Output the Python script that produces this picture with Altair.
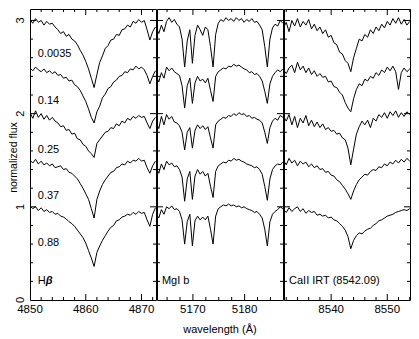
import altair as alt
import pandas as pd

FONT = "Liberation Sans"

# ---- sampling grids (start wavelength, step in Angstrom) ----
STEP = 0.5
HB_START = 4850.0
MG_START = 5162.9
CA_START = 8531.5

PHASES = ["0.0035", "0.14", "0.25", "0.37", "0.88"]
PHASE_Y = [2.635, 2.136, 1.615, 1.116, 0.617]

# ---- H-beta spectra (offset by 0.5 each) ----
HB_0035 = [3.01, 2.97, 3.02, 2.98, 3.00, 2.95, 2.99, 2.96, 2.97, 2.93,
           2.90, 2.86, 2.88, 2.83, 2.85, 2.80, 2.78, 2.74, 2.68, 2.63,
           2.56, 2.48, 2.38, 2.28, 2.42, 2.55, 2.62, 2.70, 2.73, 2.79,
           2.80, 2.85, 2.84, 2.90, 2.91, 2.95, 2.93, 2.99, 2.97, 3.01,
           2.98, 3.00, 2.90, 2.79, 2.88, 2.93]
HB_014 = [2.49, 2.46, 2.50, 2.47, 2.45, 2.48, 2.44, 2.46, 2.43, 2.45,
          2.41, 2.42, 2.38, 2.39, 2.35, 2.36, 2.31, 2.29, 2.25, 2.19,
          2.13, 2.05, 1.96, 1.90, 2.02, 2.08, 2.17, 2.21, 2.27, 2.29,
          2.34, 2.36, 2.40, 2.41, 2.45, 2.44, 2.48, 2.47, 2.51, 2.48,
          2.50, 2.47, 2.41, 2.32, 2.40, 2.46]
HB_025 = [2.01, 1.95, 2.03, 1.96, 2.00, 1.94, 1.98, 1.93, 1.96, 1.92,
          1.90, 1.86, 1.87, 1.82, 1.83, 1.78, 1.79, 1.73, 1.72, 1.67,
          1.65, 1.60, 1.57, 1.53, 1.68, 1.72, 1.76, 1.80, 1.81, 1.85,
          1.84, 1.89, 1.87, 1.92, 1.90, 1.95, 1.93, 1.97, 1.95, 1.98,
          1.96, 1.97, 1.90, 1.84, 1.92, 1.96]
HB_037 = [1.50, 1.47, 1.51, 1.46, 1.49, 1.45, 1.47, 1.44, 1.46, 1.42,
          1.43, 1.44, 1.40, 1.41, 1.37, 1.36, 1.33, 1.30, 1.25, 1.20,
          1.14, 1.08, 0.98, 0.88, 1.08, 1.17, 1.24, 1.29, 1.33, 1.37,
          1.38, 1.42, 1.43, 1.46, 1.45, 1.49, 1.47, 1.50, 1.49, 1.52,
          1.49, 1.50, 1.42, 1.36, 1.44, 1.49]
HB_088 = [1.01, 0.98, 1.00, 0.96, 0.99, 0.95, 0.97, 0.94, 0.95, 0.92,
          0.93, 0.90, 0.89, 0.87, 0.84, 0.82, 0.79, 0.75, 0.71, 0.67,
          0.61, 0.53, 0.45, 0.36, 0.51, 0.58, 0.64, 0.69, 0.74, 0.78,
          0.80, 0.85, 0.86, 0.89, 0.90, 0.92, 0.91, 0.94, 0.92, 0.95,
          0.93, 0.94, 0.86, 0.79, 0.92, 0.99]

# ---- MgI b spectra ----
MG_0035 = [2.92, 2.86, 2.95, 2.88, 2.99, 3.03, 2.98, 3.01, 2.96, 2.93,
           2.80, 2.50, 2.78, 2.90, 2.54, 2.84, 2.95, 2.90, 2.84, 2.93,
           2.90, 2.72, 2.50, 2.85, 2.97, 3.01, 2.99, 3.03, 3.00, 3.02,
           2.99, 3.03, 3.00, 3.02, 2.98, 3.01, 2.99, 3.02, 2.98, 2.99,
           2.95, 2.90, 2.72, 2.50, 2.80, 2.92, 2.96, 2.94, 3.00, 2.97]
MG_014 = [2.40, 2.34, 2.44, 2.38, 2.50, 2.46, 2.49, 2.45, 2.43, 2.41,
          2.30, 2.06, 2.30, 2.38, 2.11, 2.33, 2.40, 2.35, 2.37, 2.33,
          2.38, 2.25, 2.13, 2.40, 2.45, 2.47, 2.49, 2.48, 2.51, 2.50,
          2.53, 2.51, 2.52, 2.50, 2.48, 2.47, 2.44, 2.45, 2.42, 2.43,
          2.40, 2.35, 2.24, 2.11, 2.32, 2.40, 2.44, 2.47, 2.45, 2.48]
MG_025 = [1.90, 1.84, 1.97, 1.88, 1.99, 1.94, 1.97, 1.91, 1.90, 1.87,
          1.80, 1.61, 1.80, 1.85, 1.63, 1.82, 1.88, 1.84, 1.87, 1.83,
          1.86, 1.74, 1.63, 1.88, 1.92, 1.94, 1.96, 1.95, 1.98, 1.97,
          2.00, 1.98, 2.01, 1.99, 2.00, 1.97, 1.98, 1.95, 1.96, 1.94,
          1.93, 1.90, 1.80, 1.68, 1.85, 1.92, 1.95, 1.93, 1.98, 1.96]
MG_037 = [1.42, 1.36, 1.46, 1.40, 1.49, 1.45, 1.47, 1.43, 1.44, 1.40,
          1.32, 1.06, 1.30, 1.38, 1.08, 1.33, 1.40, 1.35, 1.38, 1.33,
          1.36, 1.22, 1.10, 1.38, 1.44, 1.46, 1.48, 1.47, 1.50, 1.49,
          1.52, 1.50, 1.51, 1.49, 1.48, 1.46, 1.45, 1.44, 1.42, 1.43,
          1.40, 1.35, 1.22, 1.07, 1.30, 1.40, 1.44, 1.46, 1.45, 1.48]
MG_088 = [0.93, 0.88, 0.97, 0.92, 1.00, 0.98, 1.01, 0.97, 0.98, 0.95,
          0.86, 0.60, 0.84, 0.92, 0.58, 0.85, 0.90, 0.86, 0.89, 0.86,
          0.90, 0.76, 0.60, 0.90, 0.98, 1.00, 1.02, 1.01, 1.03, 1.01,
          1.02, 1.00, 1.01, 0.99, 1.00, 0.98, 0.97, 0.96, 0.94, 0.95,
          0.92, 0.88, 0.76, 0.58, 0.84, 0.92, 0.95, 0.97, 1.00, 0.98]

# ---- CaII IRT 8542 spectra ----
CA_0035 = [2.92, 2.98, 2.88, 3.00, 2.94, 3.02, 2.93, 2.99, 2.95, 3.01,
           2.91, 2.96, 2.89, 2.93, 2.86, 2.90, 2.82, 2.84, 2.76, 2.74,
           2.66, 2.64, 2.57, 2.54, 2.45, 2.60, 2.70, 2.80, 2.78, 2.85,
           2.82, 2.90, 2.86, 2.93, 2.89, 2.96, 2.92, 2.99, 2.95, 3.02,
           2.97, 3.03, 2.96, 3.01, 2.95, 2.99]
CA_014 = [2.47, 2.43, 2.49, 2.52, 2.44, 2.55, 2.47, 2.51, 2.44, 2.49,
          2.42, 2.46, 2.40, 2.43, 2.39, 2.40, 2.34, 2.35, 2.29, 2.28,
          2.23, 2.20, 2.12, 2.06, 2.02, 2.16, 2.26, 2.32, 2.30, 2.37,
          2.35, 2.40, 2.38, 2.44, 2.41, 2.47, 2.44, 2.50, 2.46, 2.51,
          2.45, 2.26, 2.44, 2.49, 2.45, 2.48]
CA_025 = [1.97, 1.92, 1.99, 1.88, 1.97, 1.85, 1.95, 1.90, 1.98, 1.87,
          1.93, 1.86, 1.91, 1.85, 1.89, 1.83, 1.85, 1.81, 1.82, 1.78,
          1.79, 1.74, 1.72, 1.63, 1.45, 1.62, 1.78, 1.86, 1.92, 1.88,
          1.93, 1.85, 1.95, 1.92, 1.99, 1.96, 2.01, 1.95, 2.02, 1.98,
          2.03, 1.96, 2.01, 1.97, 2.02, 1.99]
CA_037 = [1.50, 1.45, 1.52, 1.47, 1.50, 1.44, 1.49, 1.46, 1.48, 1.43,
          1.46, 1.42, 1.44, 1.40, 1.41, 1.37, 1.38, 1.34, 1.33, 1.29,
          1.27, 1.23, 1.19, 1.14, 1.08, 1.17, 1.24, 1.29, 1.32, 1.35,
          1.34, 1.38, 1.40, 1.39, 1.43, 1.42, 1.46, 1.44, 1.48, 1.46,
          1.50, 1.47, 1.51, 1.48, 1.52, 1.49]
CA_088 = [0.97, 0.94, 0.99, 0.95, 0.98, 1.00, 0.95, 0.98, 0.93, 0.96,
          0.94, 0.95, 0.91, 0.92, 0.90, 0.91, 0.88, 0.89, 0.86, 0.85,
          0.82, 0.79, 0.75, 0.68, 0.55, 0.64, 0.69, 0.72, 0.71, 0.74,
          0.76, 0.77, 0.80, 0.82, 0.85, 0.86, 0.88, 0.90, 0.91, 0.92,
          0.94, 0.95, 0.96, 0.97, 0.96, 0.98]

# ---- axes ----
Y_MAX = 3.123
Y_MAJOR = [0, 1, 2, 3]
Y_MINOR = [0.2, 0.4, 0.6, 0.8, 1.2, 1.4, 1.6, 1.8, 2.2, 2.4, 2.6, 2.8]

HB_DOMAIN = [4850.0, 4872.6]
MG_DOMAIN = [5163.05, 5187.43]
CA_DOMAIN = [8531.6, 8554.05]

HB_MAJOR = [4850, 4860, 4870]
HB_MINOR = [4852, 4854, 4856, 4858, 4862, 4864, 4866, 4868, 4872]
MG_MAJOR = [5170, 5180]
MG_MINOR = [5165, 5167.5, 5172.5, 5175, 5177.5, 5182.5, 5185]
CA_MAJOR = [8540, 8550]
CA_MINOR = [8532, 8534, 8536, 8538, 8542, 8544, 8546, 8548, 8552, 8554]

Y_TITLE = "normalized flux"
X_TITLE = "wavelength (Å)"

W = 126
H = 291
MAJ = 6
MIN = 3

YS = alt.Scale(domain=[0, Y_MAX], nice=False, zero=False)


def spectra_df(start, series):
    rows = []
    for k, flux in enumerate(series):
        for i, f in enumerate(flux):
            rows.append({"wl": round(start + STEP * i, 2), "flux": f, "spec": PHASES[k]})
    return pd.DataFrame(rows)


def txt(df, **props):
    base = dict(font=FONT, color="black", fontSize=11)
    base.update(props)
    return alt.Chart(df).mark_text(**base)


def panel(start, series, xdom, xmajor, xminor, ylabels, xtitle, texts):
    XS = alt.Scale(domain=xdom, nice=False, zero=False)
    X = lambda: alt.X("wl:Q", scale=XS, axis=None)
    Y = lambda: alt.Y("flux:Q", scale=YS, axis=None)
    df = spectra_df(start, series)
    layers = [
        alt.Chart(df).mark_line(color="black", strokeWidth=1, clip=True).encode(
            x=X(), y=Y(), detail="spec:N"
        )
    ]
    # inward ticks on all four sides
    for vals, ln in ((Y_MAJOR, MAJ), (Y_MINOR, MIN)):
        d = pd.DataFrame({"flux": [v for v in vals if 0 < v < Y_MAX]})
        base = alt.Chart(d).mark_rule(color="black", strokeWidth=1)
        layers.append(base.encode(y=Y(), x=alt.value(0), x2=alt.value(ln)))
        layers.append(base.encode(y=Y(), x=alt.value(W), x2=alt.value(W - ln)))
    for vals, ln in ((xmajor, MAJ), (xminor, MIN)):
        d = pd.DataFrame({"wl": [v for v in vals if xdom[0] < v < xdom[1]]})
        base = alt.Chart(d).mark_rule(color="black", strokeWidth=1)
        layers.append(base.encode(x=X(), y=alt.value(H), y2=alt.value(H - ln)))
        layers.append(base.encode(x=X(), y=alt.value(0), y2=alt.value(ln)))
    # x tick labels
    xl = pd.DataFrame({"wl": xmajor, "t": [str(v) for v in xmajor]})
    layers.append(txt(xl, align="center", baseline="top", fontSize=11.5).encode(
        x=X(), y=alt.value(H + 4), text="t:N"))
    if ylabels:
        yl = pd.DataFrame({"flux": Y_MAJOR, "t": [str(v) for v in Y_MAJOR]})
        layers.append(txt(yl, align="center", baseline="alphabetic", angle=270).encode(
            y=Y(), x=alt.value(-6), text="t:N"))
        layers.append(txt(pd.DataFrame({"t": [Y_TITLE]}), align="center", baseline="alphabetic",
                          angle=270, fontSize=10.5).encode(
            x=alt.value(-13), y=alt.value(148.5), text="t:N"))
    if xtitle:
        layers.append(txt(pd.DataFrame({"t": [xtitle]}), align="center", baseline="middle").encode(
            x=alt.value(W / 2), y=alt.value(H + 30), text="t:N"))
    for tdf, extra in texts:
        layers.append(txt(tdf, align="left", baseline="middle", **extra).encode(
            x=X(), y=Y(), text="t:N"))
    return alt.layer(*layers).properties(width=W, height=H)


hb_texts = [
    (pd.DataFrame({"wl": [4851.4] * 5, "flux": PHASE_Y, "t": PHASES}), {}),
    (pd.DataFrame({"wl": [4851.4], "flux": [0.204], "t": ["H"]}), {}),
    (pd.DataFrame({"wl": [4851.4], "flux": [0.204], "t": ["β"]}),
     {"dx": 8, "fontWeight": "bold", "fontStyle": "italic"}),
]
mg_texts = [(pd.DataFrame({"wl": [5164.0], "flux": [0.204], "t": ["MgI b"]}), {})]
ca_texts = [(pd.DataFrame({"wl": [8532.5], "flux": [0.204], "t": ["CaII IRT (8542.09)"]}), {})]

p1 = panel(HB_START, [HB_0035, HB_014, HB_025, HB_037, HB_088], HB_DOMAIN,
           HB_MAJOR, HB_MINOR, True, None, hb_texts)
p2 = panel(MG_START, [MG_0035, MG_014, MG_025, MG_037, MG_088], MG_DOMAIN,
           MG_MAJOR, MG_MINOR, False, X_TITLE, mg_texts)
p3 = panel(CA_START, [CA_0035, CA_014, CA_025, CA_037, CA_088], CA_DOMAIN,
           CA_MAJOR, CA_MINOR, False, None, ca_texts)

chart = (
    alt.hconcat(p1, p2, p3, spacing=1, bounds="flush")
    .properties(padding=0, background="white")
    .configure_view(stroke="black", strokeWidth=1)
)

chart.save("out.html", embed_options={"renderer": "svg", "actions": False})
